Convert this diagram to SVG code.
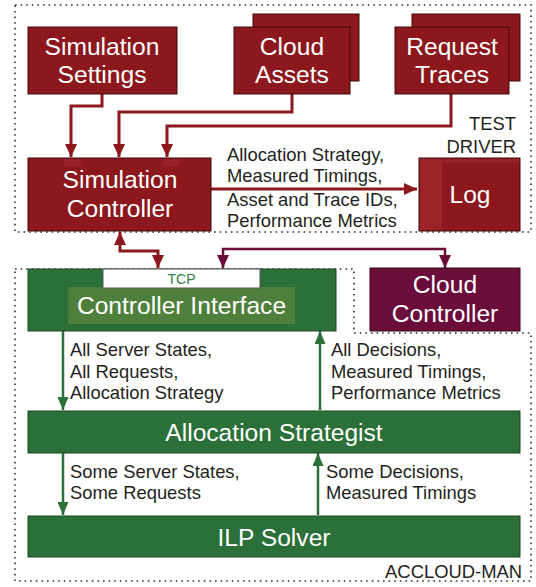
<svg xmlns="http://www.w3.org/2000/svg" width="536" height="587" viewBox="0 0 536 587">
<style>
.red{fill:#8c181d;stroke:#3e0a0c;stroke-width:1}
.grn{fill:#2b7038;stroke:#1d4a25;stroke-width:1}
.pur{fill:#6b0d3b;stroke:#35061d;stroke-width:1}
.bt{font-family:"Liberation Sans",Arial,sans-serif;font-size:24.6px;fill:#ffffff;text-anchor:middle}
.lb{font-family:"Liberation Sans",Arial,sans-serif;font-size:18.4px;fill:#231f20}
.dot{fill:none;stroke:#333;stroke-width:1.6;stroke-dasharray:1.6 4}
.rl{fill:none;stroke:#8c181d;stroke-width:3}
.pl{fill:none;stroke:#6b0d3b;stroke-width:2.5}
.gl{fill:none;stroke:#2b7038;stroke-width:2.5}
</style>
<defs>
<marker id="ar" markerUnits="userSpaceOnUse" markerWidth="13" markerHeight="12" refX="13" refY="6" orient="auto-start-reverse"><path d="M0,0 L13,6 L0,12 z" fill="#8c181d"/></marker>
<marker id="ap" markerUnits="userSpaceOnUse" markerWidth="13" markerHeight="12" refX="13" refY="6" orient="auto-start-reverse"><path d="M0,0 L13,6 L0,12 z" fill="#6b0d3b"/></marker>
<marker id="ag" markerUnits="userSpaceOnUse" markerWidth="13" markerHeight="11" refX="13" refY="5.5" orient="auto-start-reverse"><path d="M0,0 L13,5.5 L0,11 z" fill="#2b7038"/></marker>
</defs>
<rect width="536" height="587" fill="#ffffff"/>
<g id="test-driver">
<rect class="dot" x="15" y="5" width="516" height="227"/>
<text class="lb" x="516" y="130" text-anchor="end">TEST</text>
<text class="lb" x="516" y="153" text-anchor="end">DRIVER</text>
</g>
<g id="accloud-man">
<path class="dot" d="M15,269 H354 V333 H531 V581 H15 Z"/>
<text class="lb" x="522" y="578" text-anchor="end">ACCLOUD-MAN</text>
</g>
<g id="connectors">
<path class="rl" d="M102,94 V106 H71 V157" marker-end="url(#ar)"/>
<path class="rl" d="M292,94 V112 H119 V157" marker-end="url(#ar)"/>
<path class="rl" d="M451,94 V126 H167 V157" marker-end="url(#ar)"/>
<path class="rl" d="M211,189 H417" marker-end="url(#ar)"/>
<path class="rl" d="M120,232 V251 H158 V268" marker-start="url(#ar)" marker-end="url(#ar)"/>
<path class="pl" d="M223,268 V249 H445 V268" marker-start="url(#ap)" marker-end="url(#ap)"/>
<path class="gl" d="M63,331 V410" marker-end="url(#ag)"/>
<path class="gl" d="M320,410 V331" marker-end="url(#ag)"/>
<path class="gl" d="M63,453 V515" marker-end="url(#ag)"/>
<path class="gl" d="M318,515 V453" marker-end="url(#ag)"/>
<text class="lb" x="227" y="161">Allocation Strategy,</text>
<text class="lb" x="227" y="182">Measured Timings,</text>
<text class="lb" x="227" y="206">Asset and Trace IDs,</text>
<text class="lb" x="227" y="227">Performance Metrics</text>
<text class="lb" x="70" y="356">All Server States,</text>
<text class="lb" x="70" y="378">All Requests,</text>
<text class="lb" x="70" y="399">Allocation Strategy</text>
<text class="lb" x="331" y="356">All Decisions,</text>
<text class="lb" x="331" y="378">Measured Timings,</text>
<text class="lb" x="331" y="399">Performance Metrics</text>
<text class="lb" x="70" y="478">Some Server States,</text>
<text class="lb" x="70" y="499">Some Requests</text>
<text class="lb" x="326" y="478">Some Decisions,</text>
<text class="lb" x="326" y="499">Measured Timings</text>
</g>
<g id="simulation-settings">
<rect class="red" x="28" y="27" width="149" height="67"/>
<text class="bt" x="102" y="55">Simulation</text>
<text class="bt" x="102" y="83">Settings</text>
</g>
<g id="cloud-assets">
<rect class="red" x="253" y="14" width="106" height="67"/>
<rect class="red" x="234" y="27" width="116" height="67"/>
<text class="bt" x="292" y="55">Cloud</text>
<text class="bt" x="292" y="83">Assets</text>
</g>
<g id="request-traces">
<rect class="red" x="412" y="14" width="108" height="67"/>
<rect class="red" x="395" y="27" width="114" height="67"/>
<text class="bt" x="452" y="55">Request</text>
<text class="bt" x="452" y="83">Traces</text>
</g>
<g id="simulation-controller">
<rect class="red" x="28" y="158" width="183" height="73"/>
<rect x="64" y="159" width="17" height="7" fill="#982126"/>
<rect x="162" y="159" width="17" height="7" fill="#982126"/>
<text class="bt" x="120" y="188">Simulation</text>
<text class="bt" x="120" y="217">Controller</text>
</g>
<g id="log">
<rect class="red" x="419" y="158" width="101" height="73"/>
<rect x="420" y="159" width="22" height="71" fill="#9c2327"/>
<rect x="442" y="159" width="77" height="4" fill="#952026"/>
<text class="bt" x="470" y="203">Log</text>
</g>
<g id="controller-interface">
<rect class="grn" x="28" y="269" width="308" height="62"/>
<rect x="68" y="287" width="227" height="37" fill="#4f7f3c"/>
<rect x="103" y="269" width="157" height="19" fill="#ffffff" stroke="#555" stroke-width="1"/>
<text x="181.5" y="284" font-family="'Liberation Sans',Arial,sans-serif" font-size="14" fill="#2e7d43" text-anchor="middle">TCP</text>
<text class="bt" x="181.5" y="314">Controller Interface</text>
</g>
<g id="cloud-controller">
<rect class="pur" x="370" y="268" width="150" height="63"/>
<text class="bt" x="445" y="293">Cloud</text>
<text class="bt" x="445" y="322">Controller</text>
</g>
<g id="allocation-strategist">
<rect class="grn" x="28" y="411" width="492" height="42"/>
<text class="bt" x="274" y="441">Allocation Strategist</text>
</g>
<g id="ilp-solver">
<rect class="grn" x="28" y="516" width="492" height="41"/>
<text class="bt" x="274" y="546">ILP Solver</text>
</g>
</svg>
